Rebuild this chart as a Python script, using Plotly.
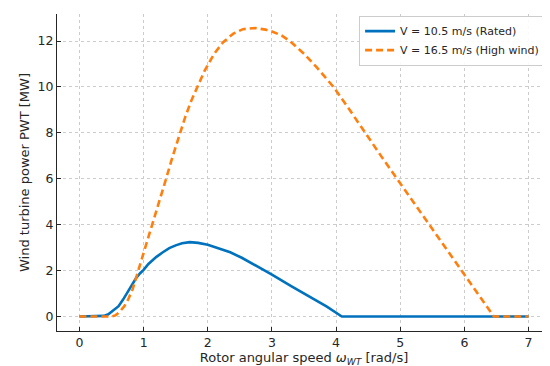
import plotly.graph_objects as go

# Rotor angular speed [rad/s] and power [MW]
omega_rated = [0, 0.2, 0.32, 0.38, 0.45, 0.52, 0.61, 0.68, 0.76, 0.83, 0.89, 0.95, 1.0, 1.075, 1.15, 1.2, 1.3,
               1.4, 1.5, 1.6, 1.72, 1.85, 2.0, 2.165, 2.35, 2.53, 2.75, 3.0, 3.3, 3.57, 3.85, 4.09,
               4.5, 5.0, 6.0, 7.0]
power_rated = [0, 0, 0, 0.03, 0.1, 0.24, 0.45, 0.74, 1.1, 1.42, 1.71, 1.9, 2.03, 2.29, 2.48, 2.6, 2.8,
               2.98, 3.1, 3.19, 3.24, 3.21, 3.13, 2.99, 2.8, 2.56, 2.22, 1.83, 1.33, 0.89, 0.44, 0,
               0, 0, 0, 0]

omega_high = [0, 0.3, 0.5, 0.56, 0.61, 0.7, 0.76, 0.83, 0.89, 1.0, 1.13, 1.25, 1.35, 1.45, 1.55, 1.65,
              1.75, 1.85, 1.95, 2.1, 2.24, 2.4, 2.55, 2.74, 2.9, 3.0, 3.15, 3.28, 3.5, 3.7, 3.96,
              4.2, 4.45, 4.7, 4.95, 5.2, 5.45, 5.7, 5.95, 6.2, 6.46, 6.7, 7.0]
power_high = [0, 0, 0, 0.05, 0.16, 0.45, 0.75, 1.2, 1.75, 2.7, 4.0, 5.1, 6.0, 6.95, 7.85, 8.7,
              9.45, 10.1, 10.7, 11.45, 11.95, 12.33, 12.52, 12.57, 12.5, 12.42, 12.25, 12.0, 11.45, 10.85, 10.0,
              9.05, 8.0, 7.0, 6.0, 5.0, 4.0, 3.0, 2.0, 1.0, 0, 0, 0]

series_names = ["V = 10.5 m/s (Rated)", "V = 16.5 m/s (High wind)"]
x_ticks = [0, 1, 2, 3, 4, 5, 6, 7]
y_ticks = [0, 2, 4, 6, 8, 10, 12]

fig = go.Figure()
fig.add_trace(go.Scatter(x=omega_rated, y=power_rated, mode="lines", name=series_names[0],
                         line=dict(color="#0072BD", width=2.6)))
fig.add_trace(go.Scatter(x=omega_high, y=power_high, mode="lines", name=series_names[1],
                         line=dict(color="#FF7F0E", width=2.6, dash="7px,4px")))

tick_font = dict(family="DejaVu Sans", size=12.5, color="#262626")
title_font = dict(family="DejaVu Sans", size=13, color="#262626")
fig.update_layout(
    width=550, height=366,
    margin=dict(l=49, r=7, t=6, b=43),
    paper_bgcolor="white", plot_bgcolor="white",
    font=dict(family="DejaVu Sans", color="#262626"),
    showlegend=True,
    legend=dict(x=0.988, y=0.995, xanchor="right", yanchor="top",
                bgcolor="rgba(255,255,255,0.9)", bordercolor="#cccccc", borderwidth=1,
                font=dict(family="DejaVu Sans", size=11, color="#262626"),
                itemwidth=30, tracegroupgap=0),
    xaxis=dict(range=[-0.35, 7.35], tickvals=x_ticks, showline=True, linecolor="#262626", linewidth=1,
               ticks="inside", ticklen=4, tickcolor="#262626", tickfont=tick_font, automargin=False,
               showgrid=True, gridcolor="#cccccc", griddash="dot", gridwidth=0.8, zeroline=False,
               title=dict(text="Rotor angular speed <i>ω</i><sub><i>WT</i></sub> [rad/s]", font=title_font, standoff=2)),
    yaxis=dict(range=[-0.63, 13.18], tickvals=y_ticks, showline=True, linecolor="#262626", linewidth=1,
               ticks="inside", ticklen=4, tickcolor="#262626", tickfont=tick_font, automargin=False,
               showgrid=True, gridcolor="#cccccc", griddash="dot", gridwidth=0.8, zeroline=False,
               title=dict(text="Wind turbine power PWT [MW]", font=title_font, standoff=5)),
)
fig.write_html("out.html")
